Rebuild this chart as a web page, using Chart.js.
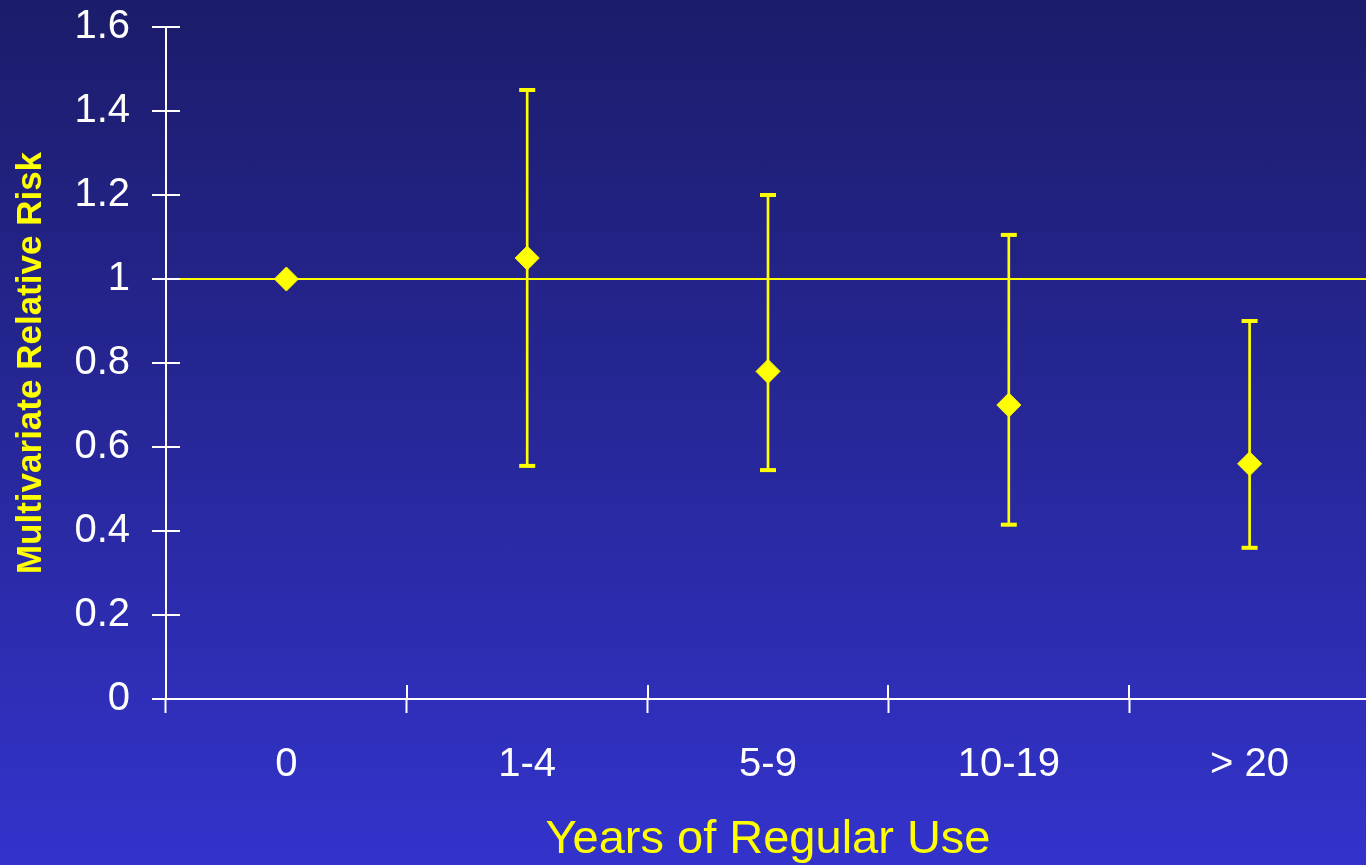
<!DOCTYPE html>
<html>
<head>
<meta charset="utf-8">
<script src="https://cdn.jsdelivr.net/npm/chart.js@4.4.1/dist/chart.umd.min.js"></script>
<style>
  html, body { margin: 0; padding: 0; }
  body {
    width: 1366px; height: 865px; overflow: hidden;
    background: linear-gradient(to bottom, #1c1c6b 0%, #272799 50%, #3333cc 100%);
  }
  #wrap { position: relative; width: 1366px; height: 865px; overflow: hidden; }
  canvas { display: block; }
</style>
</head>
<body>
<div id="wrap"><canvas id="myChart" width="1370" height="865"></canvas></div>
<script>
// dados
var categories = ['0', '1-4', '5-9', '10-19', '> 20']
var relativeRisk = [1.0, 1.05, 0.78, 0.70, 0.56]
var lowerCI = [null, 0.555, 0.545, 0.415, 0.36]
var upperCI = [null, 1.45, 1.20, 1.105, 0.90]
var yTicks = [0, 0.2, 0.4, 0.6, 0.8, 1, 1.2, 1.4, 1.6]

var yellow = '#ffff00'
var white = '#ffffff'

// barra de erro vertical como barra flutuante
var errorBars = categories.map((c, i) =>
    lowerCI[i] == null ? null : [lowerCI[i], upperCI[i]]
)

// pequenas marcas dos dois lados dos eixos (parte interna)
var innerTicks = {
    id: 'innerTicks',
    afterDatasetsDraw(chart) {
        var ctx = chart.ctx
        var x = chart.scales.x
        var y = chart.scales.y
        ctx.save()
        ctx.strokeStyle = white
        ctx.lineWidth = 2
        ctx.beginPath()
        yTicks.forEach((v) => {
            var py = Math.round(y.getPixelForValue(v))
            ctx.moveTo(x.left, py)
            ctx.lineTo(x.left + 14, py)
        })
        for (var i = 0; i < categories.length; i++) {
            var px = Math.round(x.getPixelForValue(i - 0.5))
            ctx.moveTo(px, y.bottom)
            ctx.lineTo(px, y.bottom - 14)
        }
        ctx.stroke()
        ctx.restore()
    }
}

var ctx = document.getElementById('myChart').getContext('2d')
var myChart = new Chart(ctx, {
    type: 'bar',
    data: {
        labels: categories,
        datasets: [
            {
                type: 'line',
                label: 'Relative risk',
                data: relativeRisk,
                showLine: false,
                pointStyle: 'rectRot',
                pointRadius: 12,
                pointBackgroundColor: yellow,
                pointBorderColor: yellow,
                pointBorderWidth: 1,
                order: 0
            },
            {
                type: 'line',
                label: 'Upper',
                data: upperCI,
                showLine: false,
                pointStyle: 'line',
                pointRadius: 8,
                pointBorderColor: yellow,
                pointBorderWidth: 4,
                order: 1
            },
            {
                type: 'line',
                label: 'Lower',
                data: lowerCI,
                showLine: false,
                pointStyle: 'line',
                pointRadius: 8,
                pointBorderColor: yellow,
                pointBorderWidth: 4,
                order: 1
            },
            {
                label: 'CI',
                data: errorBars,
                backgroundColor: yellow,
                barThickness: 2,
                order: 2
            }
        ]
    },
    options: {
        responsive: false,
        animation: false,
        events: [],
        layout: { autoPadding: false, padding: { top: 27, right: 0, bottom: 0, left: 0 } },
        plugins: {
            legend: { display: false },
            tooltip: { enabled: false }
        },
        scales: {
            x: {
                offset: true,
                afterFit: (s) => {
                    s.height = 166
                    s.paddingLeft = 0
                    s.paddingRight = 0
                },
                grid: {
                    offset: true,
                    color: 'transparent',
                    tickColor: white,
                    tickWidth: 2,
                    tickLength: 14
                },
                border: { color: white, width: 2 },
                ticks: {
                    color: white,
                    padding: 28,
                    font: { family: 'Liberation Sans, Arial, sans-serif', size: 40 }
                },
                title: {
                    display: true,
                    text: 'Years of Regular Use',
                    color: yellow,
                    padding: { top: 0, bottom: 1 },
                    font: { family: 'Liberation Sans, Arial, sans-serif', size: 47, lineHeight: 1 }
                }
            },
            y: {
                min: 0,
                max: 1.6,
                afterFit: (s) => {
                    s.width = 166
                    s.paddingTop = 0
                    s.paddingBottom = 0
                },
                afterBuildTicks: (s) => { s.ticks = yTicks.map((v) => ({ value: v })) },
                grid: {
                    color: (c) => (c.tick && c.tick.value === 1 ? yellow : 'transparent'),
                    lineWidth: 2,
                    tickColor: white,
                    tickWidth: 2,
                    tickLength: 14
                },
                border: { color: white, width: 2 },
                ticks: {
                    color: white,
                    padding: 22,
                    callback: (v) => String(v),
                    font: { family: 'Liberation Sans, Arial, sans-serif', size: 40 }
                },
                title: {
                    display: true,
                    text: 'Multivariate Relative Risk',
                    color: yellow,
                    padding: { top: 14, bottom: 0 },
                    font: { family: 'Liberation Sans, Arial, sans-serif', size: 35, weight: 'bold', lineHeight: 1 }
                }
            }
        }
    },
    plugins: [innerTicks]
})
</script>
</body>
</html>
